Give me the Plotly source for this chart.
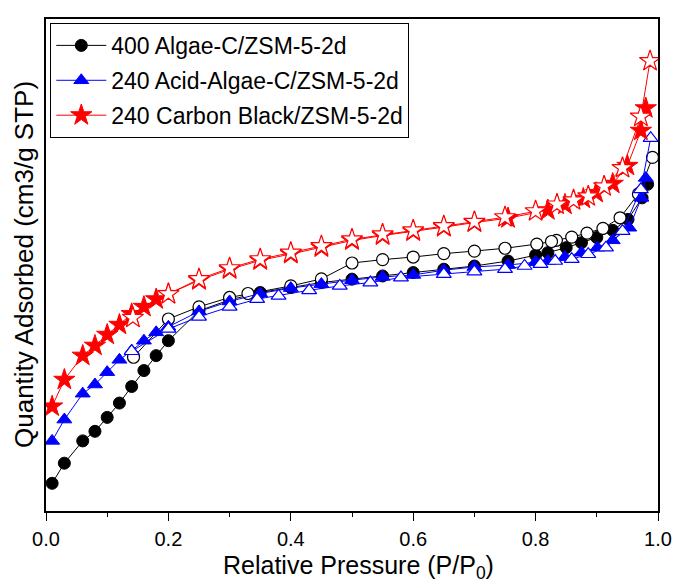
import plotly.graph_objects as go

# ---- data (y in arbitrary units; the reference y axis carries no scale) ----
algae_ads_x = [0.01, 0.03, 0.06, 0.08, 0.10, 0.12, 0.14, 0.16, 0.18, 0.20, 0.25, 0.30, 0.35, 0.40, 0.45,
               0.50, 0.55, 0.60, 0.65, 0.70, 0.755, 0.80, 0.82, 0.85, 0.875, 0.90, 0.926, 0.951, 0.974, 0.983]
algae_ads_y = [16.4, 26.5, 37.7, 42.5, 49.5, 56.7, 65.0, 73.0, 80.5, 88.0, 103.0, 108.5, 112.2, 114.7, 117.2,
               118.9, 120.5, 122.2, 123.9, 125.5, 128.0, 131.0, 132.2, 134.7, 137.2, 139.8, 143.4, 148.9, 159.7, 166.5]
algae_des_x = [0.991, 0.968, 0.938, 0.910, 0.884, 0.859, 0.834, 0.826, 0.802, 0.75, 0.70, 0.65, 0.60,
               0.55, 0.50, 0.45, 0.40, 0.33, 0.30, 0.25, 0.20, 0.143]
algae_des_y = [180.0, 161.7, 149.7, 144.4, 142.0, 140.0, 138.4, 137.8, 136.5, 134.4, 133.0, 131.7, 130.0,
               128.7, 127.0, 119.0, 115.5, 111.7, 109.7, 105.0, 98.9, 79.7]

acid_ads_x = [0.01, 0.03, 0.06, 0.08, 0.10, 0.12, 0.14, 0.16, 0.18, 0.20, 0.25, 0.30, 0.35, 0.40, 0.45,
              0.50, 0.55, 0.60, 0.65, 0.70, 0.755, 0.80, 0.82, 0.848, 0.875, 0.901, 0.926, 0.953, 0.973, 0.980]
acid_ads_y = [37.7, 48.4, 61.4, 66.0, 72.2, 78.4, 83.0, 88.0, 92.2, 95.0, 102.7, 107.7, 111.7, 114.4, 116.4,
              118.4, 120.0, 121.0, 123.4, 125.0, 126.0, 127.5, 128.0, 130.0, 132.2, 134.7, 138.4, 144.7, 159.7, 169.7]
acid_des_x = [0.988, 0.972, 0.942, 0.915, 0.886, 0.859, 0.832, 0.808, 0.782, 0.75, 0.70, 0.65, 0.58,
              0.53, 0.48, 0.43, 0.38, 0.345, 0.30, 0.25, 0.20, 0.14]
acid_des_y = [189.7, 164.0, 143.0, 134.7, 131.4, 128.9, 128.0, 126.4, 125.5, 123.9, 122.7, 121.4, 119.7,
              117.2, 115.5, 113.3, 110.5, 108.9, 105.0, 100.0, 93.9, 82.7]

cb_ads_x = [0.01, 0.03, 0.06, 0.08, 0.10, 0.12, 0.14, 0.16, 0.18, 0.20, 0.25, 0.30, 0.35, 0.40, 0.45,
            0.50, 0.55, 0.60, 0.65, 0.70, 0.755, 0.82, 0.848, 0.878, 0.899, 0.926, 0.950, 0.972, 0.980]
cb_ads_y = [55.0, 68.4, 80.5, 85.5, 91.0, 96.0, 101.4, 105.0, 108.8, 111.5, 118.3, 123.8, 128.3, 131.5, 134.8,
            138.3, 140.8, 142.8, 145.0, 147.3, 149.5, 153.5, 156.3, 159.3, 162.2, 166.8, 175.8, 193.4, 204.7]
cb_des_x = [0.987, 0.972, 0.942, 0.912, 0.886, 0.862, 0.835, 0.80, 0.75, 0.70, 0.65, 0.60, 0.55,
            0.50, 0.45, 0.40, 0.35, 0.30, 0.25, 0.20, 0.142]
cb_des_y = [228.4, 200.5, 174.7, 165.5, 160.5, 158.5, 156.4, 153.0, 150.0, 147.7, 145.5, 143.4, 141.4,
            138.9, 135.5, 132.2, 128.9, 124.4, 118.9, 111.4, 99.5]

series_names = ["400 Algae-C/ZSM-5-2d", "240 Acid-Algae-C/ZSM-5-2d", "240 Carbon Black/ZSM-5-2d"]
x_ticks = [0.0, 0.2, 0.4, 0.6, 0.8, 1.0]
x_tick_labels = ["0.0", "0.2", "0.4", "0.6", "0.8", "1.0"]
y_range = [2.5, 249.5]

FONT = "Arial, 'Liberation Sans', sans-serif"

fig = go.Figure()

specs = [
    (algae_ads_x, algae_ads_y, algae_des_x, algae_des_y, "black", "circle", 12, series_names[0]),
    (acid_ads_x, acid_ads_y, acid_des_x, acid_des_y, "#0000FF", "triangle-up", 13, series_names[1]),
    (cb_ads_x, cb_ads_y, cb_des_x, cb_des_y, "#FF0000", "star", 16, series_names[2]),
]

for i, (ax, ay, dx, dy, col, sym, size, name) in enumerate(specs):
    fig.add_trace(go.Scatter(
        x=ax, y=ay, mode="lines+markers", name=name, showlegend=True, legendgroup=f"g{i}",
        line=dict(color=col, width=1),
        marker=dict(symbol=sym, size=size, color=col, line=dict(color=col, width=1)),
    ))
    fig.add_trace(go.Scatter(
        x=dx, y=dy, mode="lines+markers", name=name + " (des)", showlegend=False, legendgroup=f"g{i}",
        line=dict(color=col, width=1),
        marker=dict(symbol=sym, size=size, color="white", line=dict(color=col, width=1.2)),
    ))

# the page body offsets the figure by 8 px, so the figure is sized to fit the window
fig.update_layout(
    width=673, height=575,
    margin=dict(l=38, r=17, t=9, b=72),
    paper_bgcolor="white", plot_bgcolor="white",
    font=dict(family=FONT, color="black"),
    showlegend=True,
    legend=dict(
        x=0.007, y=0.992, xanchor="left", yanchor="top",
        bgcolor="white", bordercolor="black", borderwidth=1,
        font=dict(size=23, family=FONT, color="black"),
        itemwidth=50, tracegroupgap=2,
    ),
    xaxis=dict(
        range=[0, 1.0], tickmode="array", tickvals=x_ticks, ticktext=x_tick_labels,
        ticks="outside", ticklen=8, tickwidth=1.2, tickcolor="black",
        minor=dict(dtick=0.1, ticks="outside", ticklen=4, tickwidth=1.2, tickcolor="black"),
        showline=True, linecolor="black", linewidth=1.5, mirror=True,
        showgrid=False, zeroline=False,
        tickfont=dict(size=20, family=FONT, color="black"),
        ticklabelstandoff=1, ticklabeloverflow="allow",
    ),
    yaxis=dict(
        range=y_range, showticklabels=False, ticks="",
        showline=True, linecolor="black", linewidth=1.5, mirror=True,
        showgrid=False, zeroline=False,
    ),
    annotations=[
        dict(text="Relative Pressure (P/P<sub>0</sub>)", xref="paper", yref="paper", x=0.5, y=0,
             xanchor="center", yanchor="middle", yshift=-56, xshift=6, showarrow=False,
             font=dict(size=25, family=FONT, color="black")),
        dict(text="Quantity Adsorbed (cm3/g STP)", xref="paper", yref="paper", x=0, y=0.5,
             xanchor="center", yanchor="middle", xshift=-22, textangle=-90, showarrow=False,
             font=dict(size=26, family=FONT, color="black")),
    ],
)

fig.write_html("out.html")
